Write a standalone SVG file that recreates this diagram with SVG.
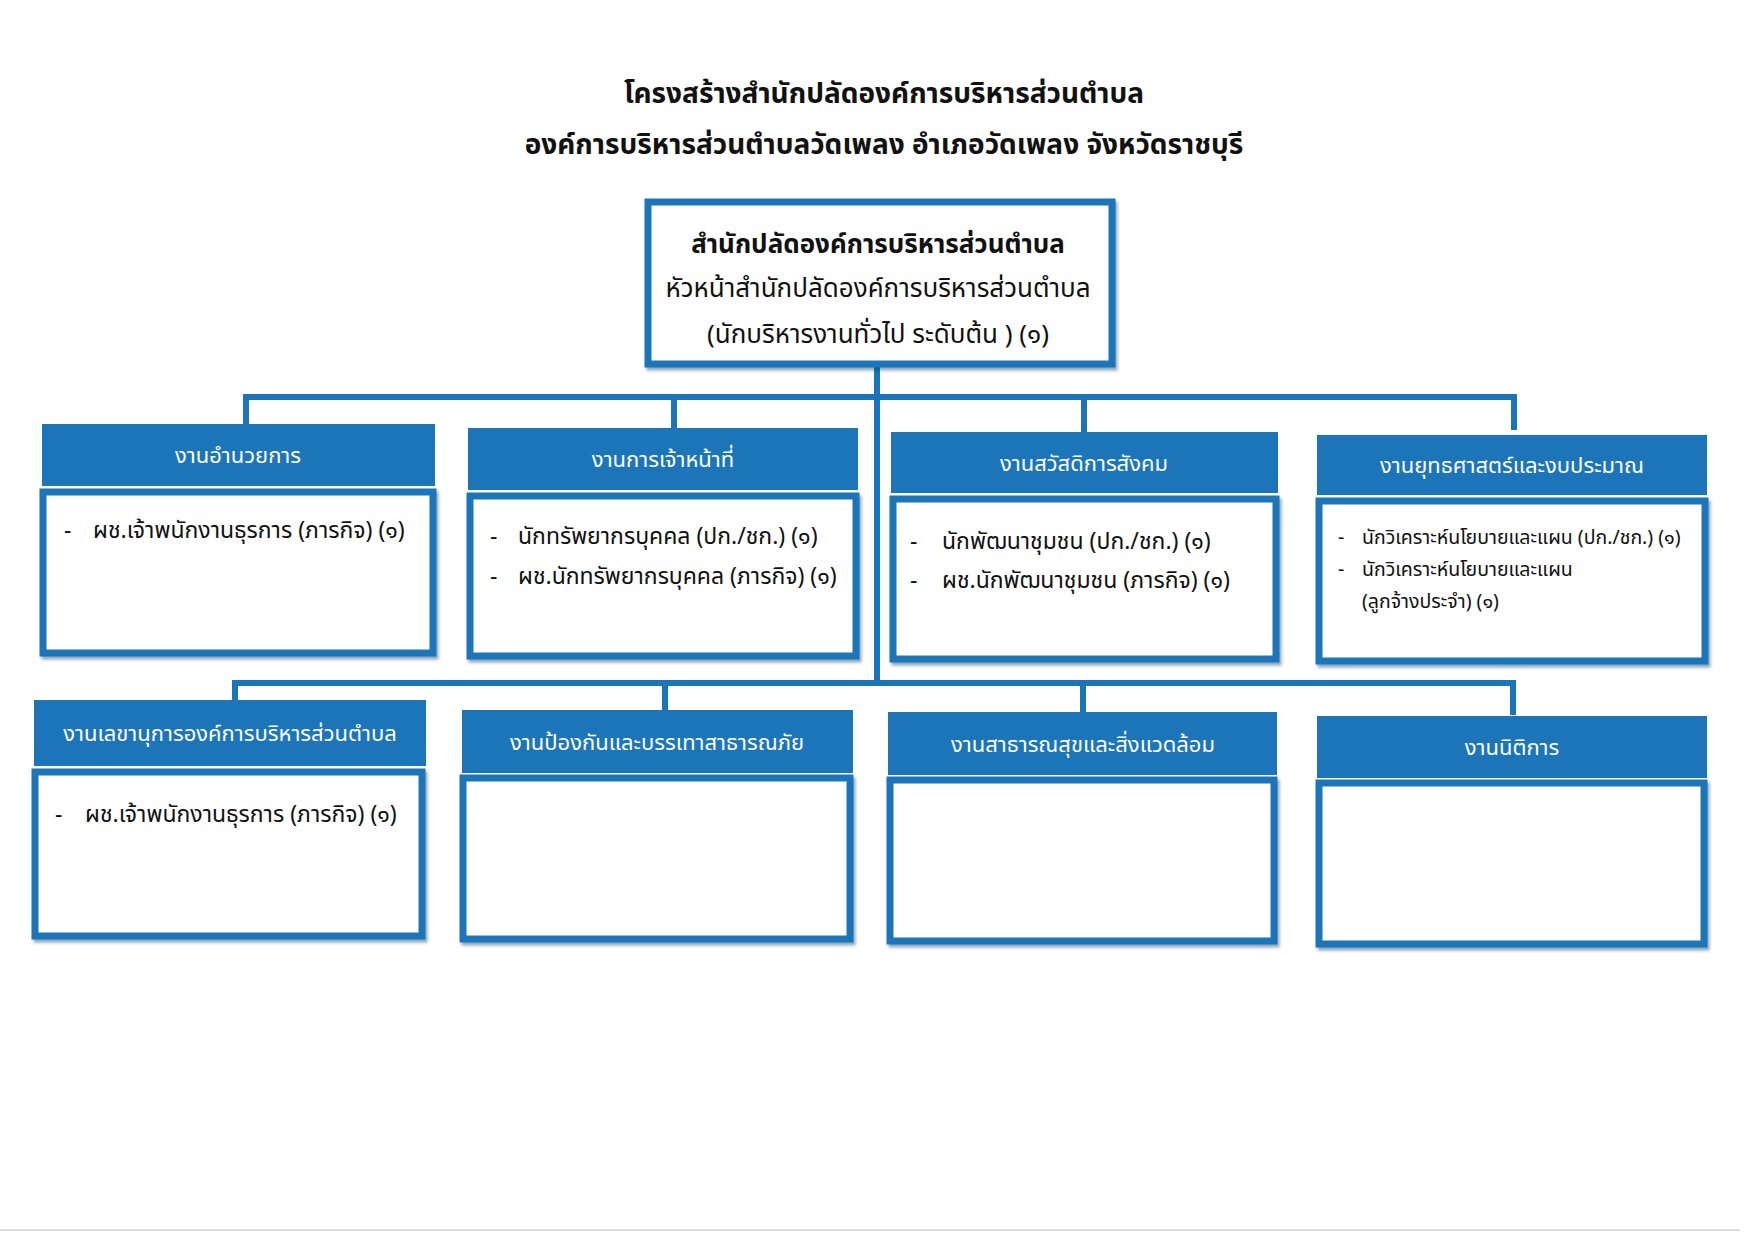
<svg xmlns="http://www.w3.org/2000/svg" width="1753" height="1240" viewBox="0 0 1753 1240">
<style>
text{font-family:"Noto Sans Thai","Noto Sans","DejaVu Sans","Liberation Sans",sans-serif;}
.title{font-size:28px;font-weight:bold;fill:#111;text-anchor:middle;}
.top1{font-size:26px;font-weight:bold;fill:#111;text-anchor:middle;}
.top2{font-size:26px;fill:#111;text-anchor:middle;}
.hdr{fill:#1c75b9;}
.hdrt{font-size:22px;fill:#fff;text-anchor:middle;}
.body{fill:#fff;stroke:#1c75b9;stroke-width:7;}
.item{font-size:23px;fill:#111;}
.item4{font-size:19.5px;fill:#111;}
.conn{fill:none;stroke:#1c75b9;stroke-width:6;}
</style>
<defs>
<filter id="sh" x="-5%" y="-5%" width="110%" height="115%"><feDropShadow dx="2" dy="3" stdDeviation="1.5" flood-color="#0b3c66" flood-opacity="0.45"/></filter>
</defs>
<rect width="1753" height="1240" fill="#fff"/>
<line x1="0" y1="1230" x2="1740" y2="1230" stroke="#ddd" stroke-width="2"/>
<g id="title">
<text class="title" x="884" y="103">โครงสร้างสำนักปลัดองค์การบริหารส่วนตำบล</text>
<text class="title" x="884" y="154">องค์การบริหารส่วนตำบลวัดเพลง อำเภอวัดเพลง จังหวัดราชบุรี</text>
</g>
<g id="connectors">
<path class="conn" d="M877 365 V683"/>
<path class="conn" d="M246 428 V397 H1514 V430"/>
<path class="conn" d="M674 397 V430"/>
<path class="conn" d="M1084 397 V432"/>
<path class="conn" d="M235 710 V683 H1513 V715"/>
<path class="conn" d="M665 683 V712"/>
<path class="conn" d="M1083 683 V713"/>
</g>
<g id="top">
<rect class="body" x="648" y="202" width="464" height="162" filter="url(#sh)"/>
<text class="top1" x="878" y="253">สำนักปลัดองค์การบริหารส่วนตำบล</text>
<text class="top2" x="878" y="297">หัวหน้าสำนักปลัดองค์การบริหารส่วนตำบล</text>
<text class="top2" x="878" y="343">(นักบริหารงานทั่วไป ระดับต้น ) (๑)</text>
</g>
<g id="n1">
<rect class="hdr" x="42" y="424" width="393" height="62"/>
<text class="hdrt" x="238" y="463" font-size="23.5">งานอำนวยการ</text>
<rect class="body" x="43" y="492" width="390" height="161" filter="url(#sh)"/>
<text class="item" x="64" y="538">-</text><text class="item" x="93" y="538">ผช.เจ้าพนักงานธุรการ (ภารกิจ) (๑)</text>
</g>
<g id="n2">
<rect class="hdr" x="468" y="428" width="390" height="62"/>
<text class="hdrt" x="663" y="467">งานการเจ้าหน้าที่</text>
<rect class="body" x="470" y="496" width="386" height="160" filter="url(#sh)"/>
<text class="item" x="490" y="544">-</text><text class="item" x="518" y="544">นักทรัพยากรบุคคล (ปก./ชก.) (๑)</text>
<text class="item" x="490" y="584">-</text><text class="item" x="518" y="584">ผช.นักทรัพยากรบุคคล (ภารกิจ) (๑)</text>
</g>
<g id="n3">
<rect class="hdr" x="891" y="432" width="387" height="61"/>
<text class="hdrt" x="1084" y="471">งานสวัสดิการสังคม</text>
<rect class="body" x="893" y="499" width="383" height="160" filter="url(#sh)"/>
<text class="item" x="910" y="549">-</text><text class="item" x="942" y="549">นักพัฒนาชุมชน (ปก./ชก.) (๑)</text>
<text class="item" x="910" y="588">-</text><text class="item" x="942" y="588">ผช.นักพัฒนาชุมชน (ภารกิจ) (๑)</text>
</g>
<g id="n4">
<rect class="hdr" x="1317" y="435" width="390" height="60"/>
<text class="hdrt" x="1512" y="473">งานยุทธศาสตร์และงบประมาณ</text>
<rect class="body" x="1319" y="501" width="386" height="160" filter="url(#sh)"/>
<text class="item4" x="1338" y="544">-</text><text class="item4" x="1362" y="544">นักวิเคราะห์นโยบายและแผน (ปก./ชก.) (๑)</text>
<text class="item4" x="1338" y="576">-</text><text class="item4" x="1362" y="576">นักวิเคราะห์นโยบายและแผน</text>
<text class="item4" x="1362" y="608">(ลูกจ้างประจำ) (๑)</text>
</g>
<g id="n5">
<rect class="hdr" x="34" y="700" width="392" height="66"/>
<text class="hdrt" x="230" y="741" font-size="21.5">งานเลขานุการองค์การบริหารส่วนตำบล</text>
<rect class="body" x="35" y="772" width="387" height="164" filter="url(#sh)"/>
<text class="item" x="55" y="822">-</text><text class="item" x="85" y="822">ผช.เจ้าพนักงานธุรการ (ภารกิจ) (๑)</text>
</g>
<g id="n6">
<rect class="hdr" x="462" y="710" width="391" height="63"/>
<text class="hdrt" x="657" y="750">งานป้องกันและบรรเทาสาธารณภัย</text>
<rect class="body" x="463" y="778" width="387" height="161" filter="url(#sh)"/>
</g>
<g id="n7">
<rect class="hdr" x="888" y="712" width="389" height="63"/>
<text class="hdrt" x="1083" y="752">งานสาธารณสุขและสิ่งแวดล้อม</text>
<rect class="body" x="890" y="780" width="384" height="161" filter="url(#sh)"/>
</g>
<g id="n8">
<rect class="hdr" x="1317" y="716" width="390" height="62"/>
<text class="hdrt" x="1512" y="755">งานนิติการ</text>
<rect class="body" x="1319" y="783" width="385" height="161" filter="url(#sh)"/>
</g>
</svg>
